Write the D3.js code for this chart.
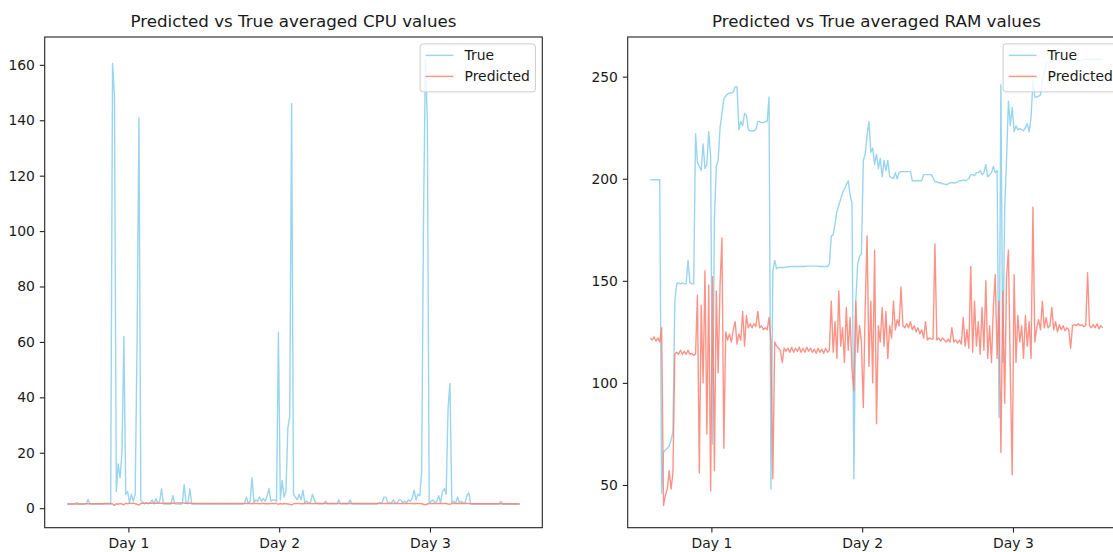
<!DOCTYPE html>
<html>
<head>
<meta charset="utf-8">
<script src="https://cdn.jsdelivr.net/npm/d3@7"></script>
<style>
  html, body { margin: 0; padding: 0; background: #ffffff; }
  svg { display: block; font-family: "DejaVu Sans", sans-serif; }
</style>
</head>
<body>
<svg id="fig" width="1113" height="552"></svg>
<script>
// Regular sampling of the monitored machine (time measured in days)
const sampleStartDay = 0.595;
const sampleStepDays = 0.0125;

const dayTicks = [1, 2, 3];
const dayLabels = ["Day 1", "Day 2", "Day 3"];
const cpuTicks = [0, 20, 40, 60, 80, 100, 120, 140, 160];
const ramTicks = [50, 100, 150, 200, 250];
const seriesNames = ["True", "Predicted"];
const seriesColors = ["#87CEEB", "#FA8072"];

// Averaged CPU usage
const cpuTrue = [
  1.5,1.5,1.5,1.5,1.6,2.0,1.5,1.5,1.5,1.5,
  1.5,3.2,1.5,1.6,1.5,1.6,1.5,1.5,1.6,1.5,
  1.5,1.6,1.5,1.5,160.5,149,6,16,11,20,
  62,5,6,2,5,2.5,5,60,141,3,
  2,1.5,2,1.5,2,3,1.5,3.5,1.8,2.5,
  7,1.5,1.6,1.5,1.6,1.5,4.5,1.6,1.5,1.6,
  1.5,1.6,8.5,1.8,1.6,7,1.6,1.5,1.6,1.5,
  1.6,1.5,1.6,1.5,1.6,1.5,1.6,1.5,1.6,1.5,
  1.6,1.5,1.6,1.5,1.6,1.5,1.6,1.5,1.6,1.5,
  1.6,1.5,1.6,1.5,1.8,4,1.8,2.5,11,2,
  3,2.5,4,2.5,3.5,2.5,4.5,7,2.5,3,
  3,2.5,63.5,3,10,4,6,29,33,146,
  5,4,3,5,3,6.5,2,2.5,1.8,2,
  5,3,1.8,1.6,1.7,1.6,1.7,2.5,1.6,1.6,
  1.6,1.7,1.6,1.6,3,1.6,1.6,1.7,1.6,1.6,
  3,1.6,1.5,1.6,1.5,1.6,1.5,1.6,1.5,1.6,
  1.5,1.6,1.5,1.6,1.5,1.8,2,2,4,4,
  2,1.8,2,3,1.8,2,3,3,2,2.5,
  2,3,2.5,3.5,6.5,3,5,4.5,13,106,
  162,140,2,2.5,3,2,2.5,4.5,2,6,
  7,5,36,45,2,2.5,1.8,4,2,2.5,
  1.8,2,4.5,5.5,1.6,1.5,1.5,1.5,1.5,1.5,
  1.5,1.5,1.5,1.5,1.5,1.5,1.5,1.5,1.5,1.5,
  2.5,1.4,1.4,1.4,1.4,1.4,1.4,1.4,1.4,1.4,
  1.4
];
const cpuPred = [
  1.5,1.5,1.5,1.5,1.5,1.5,1.5,1.5,1.5,1.6,
  1.6,1.6,1.6,1.6,1.6,1.6,1.6,1.6,1.6,1.6,
  1.7,1.7,1.7,1.7,1.5,1.0,1.6,1.4,1.7,1.5,
  1.2,1.8,1.6,1.8,1.7,1.8,1.6,1.4,1.1,1.7,
  1.8,1.8,1.8,1.8,1.8,1.8,1.8,1.8,1.8,1.8,
  1.8,1.8,1.8,1.8,1.8,1.8,1.8,1.8,1.9,1.9,
  1.9,1.9,1.8,1.8,1.8,1.8,1.7,1.7,1.7,1.7,
  1.7,1.7,1.7,1.7,1.7,1.7,1.7,1.7,1.7,1.7,
  1.7,1.7,1.7,1.7,1.7,1.7,1.7,1.7,1.7,1.7,
  1.7,1.7,1.7,1.7,1.7,1.7,1.7,1.7,1.6,1.7,
  1.7,1.7,1.6,1.7,1.7,1.6,1.7,1.6,1.7,1.7,
  1.7,1.7,1.4,1.7,1.5,1.7,1.6,1.5,1.4,1.2,
  1.6,1.7,1.7,1.7,1.6,1.6,1.7,1.7,1.7,1.7,
  1.6,1.7,1.7,1.7,1.7,1.7,1.7,1.7,1.7,1.7,
  1.7,1.7,1.7,1.7,1.7,1.7,1.7,1.7,1.7,1.7,
  1.7,1.7,1.7,1.7,1.7,1.7,1.7,1.7,1.7,1.7,
  1.7,1.7,1.7,1.7,1.7,1.7,1.7,1.7,1.7,1.7,
  1.7,1.7,1.7,1.7,1.7,1.7,1.7,1.7,1.7,1.7,
  1.7,1.7,1.7,1.7,1.6,1.7,1.7,1.7,1.6,1.4,
  1.2,1.5,1.7,1.7,1.7,1.7,1.7,1.7,1.7,1.7,
  1.7,1.7,1.5,1.4,1.7,1.7,1.7,1.7,1.7,1.7,
  1.7,1.7,1.7,1.7,1.6,1.6,1.6,1.6,1.6,1.6,
  1.6,1.6,1.6,1.6,1.6,1.6,1.6,1.6,1.6,1.6,
  1.6,1.6,1.6,1.6,1.6,1.6,1.6,1.6,1.6,1.6,
  1.6
];

// Averaged RAM usage
const ramTrue = [
  199.5,199.5,199.5,199.5,199.5,199.5,46,66,67,68,
  69,72,76,140,148.5,149,148.5,149,148.5,148.5,
  160,149,148.5,148.5,222,208,206,204,217,205,
  207,223,211,70,180,206,209,225,232,239,
  240.5,241.5,242,242,242.5,245,245,224,228,226,
  232,231,224,223.5,223.5,223.5,224,228,228,227.5,
  227.5,228,228,240,48,155,160,156,156.5,156.5,
  156.5,156.5,156.8,156.8,157,157,157,157,157,157,
  157,157,157,157.2,157.2,157.2,157.2,157.2,157.2,157.2,
  157,157,157,157,157,158,172,172.5,178,184,
  187,190,193,195,197,199,192,188,53,140,
  158,162,163,209,212,221,228,213,215,207,
  212,205,210,201,209,204,209,201,200.5,200,
  203,200,203,203.5,203.5,203.5,203.5,203.5,203.5,199,
  199,199,199,199,199,202,202,202,202,202,
  200.5,198.5,198.5,198,198,197.5,197.5,197,197.5,198,
  198,198,198,198.5,199,199,199.5,199,199.5,200,
  202,202,201.5,203,203,204,202,203,207,201,
  202,203,206,203,204,83,246,110,185,210,
  238,226,235,223,226,224,224.5,224,223.5,225,
  227,223,230,248,240,240,240.5,241,248,252,
  256,257,257,257.5,257.5,258,258,258,258,258,
  258,258,258,258,258,258,258,258,258,258,
  258.5,258.5,258.5,258.5,258.5,258.5,258.5,258.5,258.5,258.5,
  258.5
];
const ramPred = [
  122,121,122.5,120.5,122,120,127,40,45,48,
  57,48,56,114,115,114,116,114,115.5,114,
  116,114,114.5,113.5,114,143,56,138,100,155,
  75,148,47,152,57,145,105,148,171,68,
  125,121,124,120,126,130,119,124,121,135,
  118,133,127,129,127,129,127.5,135,127,128,
  126,127,126,132,120,53,120,118,117,116,
  110,117,115.5,117,115,117.5,115,117,115.5,117.5,
  115,117,115,117.5,115.5,117,115,116.5,114.5,117,
  115,116.5,114.5,117,115,116,140,115,130,112,
  145,118,127,110,137,116,132,107,96,140,
  115,128,120,88,137,172,108,140,100,165,
  80,128,120,137,118,135,112,128,122,140,
  126,131,128,147,128,127,129,127,130,126,
  128,125,127,124,126,122,130,121,122,121.5,
  121.5,168,121,122,120.5,122,121,120,121.5,120,
  127,120,121,119.5,121,119,132,118,126,117,
  157,115,140,118,130,114,137,116,150,112,
  128,110,137,153,112,140,66,145,90,152,
  165,105,55,153,110,133,120,128,112,133,
  118,130,112,186,120,127,131,126,140,127,
  132,127,128,137,126,130,125,128.5,126,128,
  125.5,127,126,117,128,128.5,128,129,128,128.5,
  127.5,128,154,128,127,128.5,127,129,126.5,128,
  127
];

const panels = [
  { id: "cpu", title: "Predicted vs True averaged CPU values", series: [cpuTrue, cpuPred], yTicks: cpuTicks, left: 44.7 },
  { id: "ram", title: "Predicted vs True averaged RAM values", series: [ramTrue, ramPred], yTicks: ramTicks, left: 627.7 }
];

const axTop = 37, axW = 497.6, axH = 490.7;
const tickFont = 13.9, titleFont = 16.7;
const svg = d3.select("#fig");

function padded(lo, hi) {
  const m = (hi - lo) * 0.05;
  return [lo - m, hi + m];
}

panels.forEach(p => {
  const g = svg.append("g").attr("transform", `translate(${p.left},${axTop})`);
  const n = p.series[0].length;
  const tFirst = sampleStartDay, tLast = sampleStartDay + (n - 1) * sampleStepDays;
  const x = d3.scaleLinear().domain(padded(tFirst, tLast)).range([0, axW]);
  const all = p.series.flat();
  const y = d3.scaleLinear().domain(padded(d3.min(all), d3.max(all))).range([axH, 0]);

  g.append("clipPath").attr("id", "clip-" + p.id)
    .append("rect").attr("width", axW).attr("height", axH);

  const line = d3.line()
    .x((d, i) => x(sampleStartDay + i * sampleStepDays))
    .y(d => y(d));

  const plot = g.append("g").attr("clip-path", `url(#clip-${p.id})`);
  p.series.forEach((vals, k) => {
    plot.append("path")
      .datum(vals)
      .attr("d", line)
      .attr("fill", "none")
      .attr("stroke", seriesColors[k])
      .attr("stroke-width", 1.4)
      .attr("stroke-opacity", 0.85)
      .attr("stroke-linejoin", "round");
  });

  // axes frame
  g.append("rect").attr("width", axW).attr("height", axH)
    .attr("fill", "none").attr("stroke", "#222").attr("stroke-width", 1.1);

  const yAxis = g.append("g")
    .call(d3.axisLeft(y).tickValues(p.yTicks).tickSize(4.9).tickPadding(4.9).tickFormat(d3.format("d")));
  const xAxis = g.append("g").attr("transform", `translate(0,${axH})`)
    .call(d3.axisBottom(x).tickValues(dayTicks).tickSize(4.9).tickPadding(6)
      .tickFormat((d, i) => dayLabels[i]));
  [yAxis, xAxis].forEach(a => {
    a.select(".domain").remove();
    a.selectAll(".tick line").attr("stroke", "#222").attr("stroke-width", 1.1);
    a.selectAll(".tick text").attr("fill", "#1a1a1a")
      .style("font-size", tickFont + "px").style("font-family", "'DejaVu Sans', sans-serif");
  });

  g.append("text")
    .attr("x", axW / 2).attr("y", -10)
    .attr("text-anchor", "middle")
    .attr("fill", "#1a1a1a")
    .style("font-size", titleFont + "px")
    .text(p.title);

  // legend, upper right
  const pad = 6.9, border = 5.6, handleLen = 27.8, handleGap = 11.1, rowGap = 21;
  const lg = g.append("g");
  const box = lg.append("rect");
  const labels = seriesNames.map((name, k) =>
    lg.append("text").attr("fill", "#1a1a1a").style("font-size", tickFont + "px")
      .attr("dominant-baseline", "central").text(name));
  const textW = d3.max(labels, t => t.node().getComputedTextLength());
  const boxW = border + handleLen + handleGap + textW + border;
  const boxH = 48;
  const bx = axW - pad - boxW, by = pad;
  box.attr("x", bx).attr("y", by).attr("width", boxW).attr("height", boxH)
    .attr("rx", 2.8).attr("fill", "#ffffff").attr("fill-opacity", 0.8)
    .attr("stroke", "#cccccc").attr("stroke-width", 1);
  seriesNames.forEach((name, k) => {
    const cy = by + 11.5 + k * rowGap;
    lg.append("line")
      .attr("x1", bx + border).attr("x2", bx + border + handleLen)
      .attr("y1", cy).attr("y2", cy)
      .attr("stroke", seriesColors[k]).attr("stroke-width", 1.4).attr("stroke-opacity", 0.85);
    labels[k].attr("x", bx + border + handleLen + handleGap).attr("y", cy);
  });
});
</script>
</body>
</html>
